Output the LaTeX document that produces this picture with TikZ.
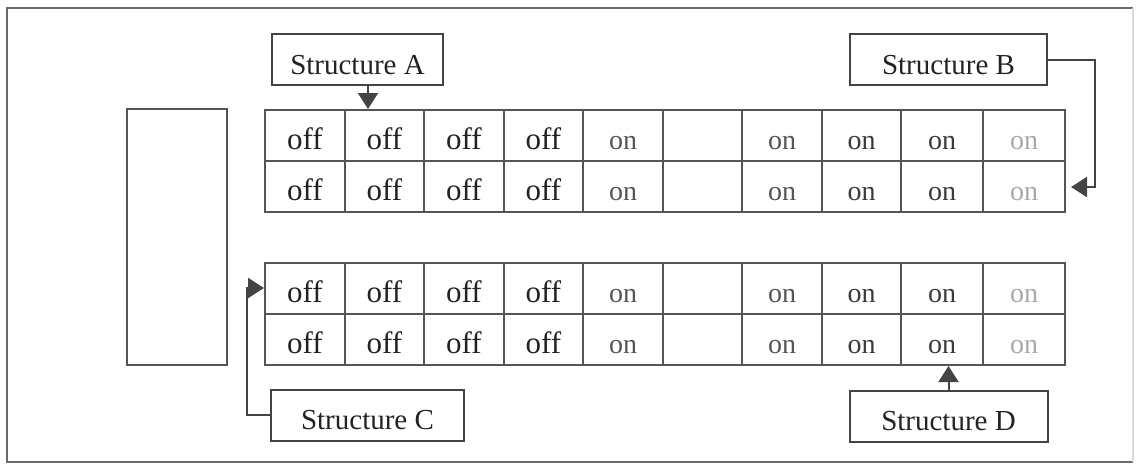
\documentclass[tikz,border=0pt]{standalone}
\usepackage{fontspec}
\setmainfont{Liberation Serif}
\usetikzlibrary{arrows.meta,calc}
\definecolor{linegray}{HTML}{555555}
\definecolor{framegray}{HTML}{6A6A6A}
\definecolor{offtxt}{HTML}{222222}
\definecolor{ontxt}{HTML}{555555}
\definecolor{ondark}{HTML}{3A3A3A}
\definecolor{onlight}{HTML}{A8A8A8}
\begin{document}
\begin{tikzpicture}[x=1pt,y=-1pt,
  cellbox/.style={draw=linegray,line width=2pt,inner sep=0pt,minimum height=51pt,
    text height=28pt,text depth=0pt},
  offfont/.style={font=\fontsize{31}{33}\selectfont},
  onfont/.style={font=\fontsize{28}{30}\selectfont},
  labelbox/.style={draw=linegray!80!black,line width=2pt,inner sep=0pt,minimum height=51pt,
    text height=29pt,text depth=0pt,font=\fontsize{29}{31}\selectfont,text=offtxt},
  conn/.style={draw=linegray!80!black,line width=2pt,-{Triangle[length=16pt,width=20pt]}}
]
\useasboundingbox (0,0) rectangle (1141,464);
% outer frame
\draw[framegray,line width=1.8pt] (1133,8) -- (7,8) -- (7,462) -- (1133,462);
\draw[black!15,line width=1.2pt] (1133,8) -- (1133,462);
% left box
\node[draw=linegray,line width=2pt,minimum width=100pt,minimum height=256pt,inner sep=0pt] (lbox) at (177,237) {};
% tables
\def\colxs{265,345,424,504,583,663,742,822,901,983,1065}
\foreach \tab/\ytop in {1/110,2/263}{
  \foreach \r in {1,2}{
    \foreach \c/\txt/\col/\fs in {1/off/offtxt/offfont,2/off/offtxt/offfont,3/off/offtxt/offfont,4/off/offtxt/offfont,5/on/ontxt/onfont,6//ontxt/onfont,7/on/ontxt/onfont,8/on/ondark/onfont,9/on/ondark/onfont,10/on/onlight/onfont}{
      \pgfmathsetmacro{\xl}{{\colxs}[\c-1]}
      \pgfmathsetmacro{\xr}{{\colxs}[\c]}
      \pgfmathsetmacro{\xm}{(\xl+\xr)/2}
      \pgfmathsetmacro{\cw}{\xr-\xl}
      \pgfmathsetmacro{\ym}{\ytop+(\r-1)*51+25.5}
      \node[cellbox,\fs,minimum width=\cw pt,text=\col] (t\tab-\r-\c) at (\xm,\ym) {\txt};
    }
  }
}
% labels
\node[labelbox,minimum width=171pt] (A) at (357.5,59.5) {Structure A};
\node[labelbox,minimum width=197pt] (B) at (948.5,59.5) {Structure B};
\node[labelbox,minimum width=193pt] (C) at (367.5,415) {Structure C};
\node[labelbox,minimum width=198pt] (D) at (948.5,416) {Structure D};
% connectors
\coordinate (atop) at ($(A.south)+(10.5,0)$);
\draw[conn] (atop) -- (atop |- t1-1-2.north);
\coordinate (bc) at (1095,187);
\coordinate (btip) at (1071,187);
\draw[conn] (B.east) -| (bc) -- (btip);
\coordinate (cc) at (247,288);
\draw[conn] (C.west) -| (cc) -- (t2-1-1.west |- cc);
\draw[conn] (D.north) -- (D.north |- t2-2-9.south);
\end{tikzpicture}
\end{document}
